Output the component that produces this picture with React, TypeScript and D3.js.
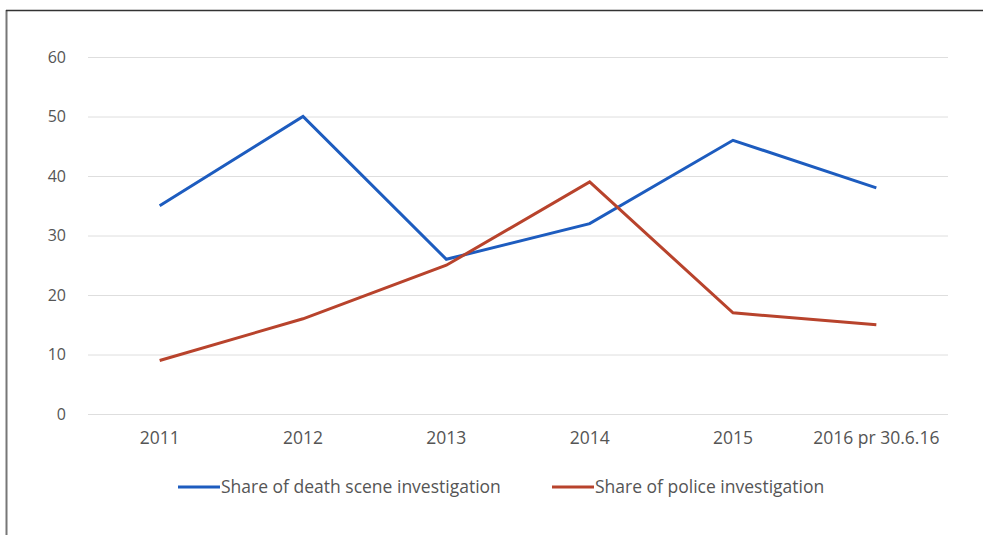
import React, { useEffect, useRef } from "react";
import * as d3 from "d3";

const categories = ["2011", "2012", "2013", "2014", "2015", "2016 pr 30.6.16"];
const deathScene = [35, 50, 26, 32, 46, 38];
const police = [9, 16, 25, 39, 17, 15];
const yTicks = [0, 10, 20, 30, 40, 50, 60];
const seriesNames = ["Share of death scene investigation", "Share of police investigation"];

const W = 983;
const H = 535;
const FONT = "'Open Sans', sans-serif";

const App: React.FC = () => {
	const svgRef = useRef<SVGSVGElement | null>(null);

	useEffect(() => {
		const svg = d3.select(svgRef.current);
		svg.selectAll("*").remove();

		const left = 88;
		const right = 948;
		const top = 57;
		const bottom = 414;

		const x = d3.scaleBand().domain(categories).range([left, right]);
		const y = d3.scaleLinear().domain([0, 60]).range([bottom, top]);

		svg.append("rect").attr("width", W).attr("height", H).attr("fill", "#fff");

		// frame
		svg.append("line")
			.attr("x1", 6.5).attr("x2", 6.5).attr("y1", 10).attr("y2", H)
			.attr("stroke", "#777").attr("stroke-width", 2);
		svg.append("line")
			.attr("x1", 6).attr("x2", W).attr("y1", 10.5).attr("y2", 10.5)
			.attr("stroke", "#333").attr("stroke-width", 1.5);

		// gridlines
		svg.append("g")
			.selectAll("line")
			.data(yTicks)
			.enter()
			.append("line")
			.attr("x1", left)
			.attr("x2", right)
			.attr("y1", (d) => y(d) + 0.5)
			.attr("y2", (d) => y(d) + 0.5)
			.attr("stroke", "#dedede")
			.attr("stroke-width", 1);

		svg.append("g")
			.selectAll("text")
			.data(yTicks)
			.enter()
			.append("text")
			.attr("x", 66)
			.attr("y", (d) => y(d))
			.attr("dy", "0.35em")
			.attr("text-anchor", "end")
			.style("font-family", FONT)
			.style("font-size", "16px")
			.style("fill", "#555")
			.text((d) => d);

		svg.append("g")
			.selectAll("text")
			.data(categories)
			.enter()
			.append("text")
			.attr("x", (d) => (x(d) as number) + x.bandwidth() / 2)
			.attr("y", 438)
			.attr("dy", "0.35em")
			.attr("text-anchor", "middle")
			.style("font-family", FONT)
			.style("font-size", "17.5px")
			.style("fill", "#555")
			.text((d) => d);

		const line = d3
			.line<number>()
			.x((_, i) => (x(categories[i]) as number) + x.bandwidth() / 2)
			.y((d) => y(d));

		const colors = ["#1d5cbf", "#b8432c"];
		[deathScene, police].forEach((s, i) => {
			svg.append("path")
				.attr("d", line(s) as string)
				.attr("fill", "none")
				.attr("stroke", colors[i])
				.attr("stroke-width", 3)
				.attr("stroke-linejoin", "miter");
		});

		// legend
		const legendX = [178, 552];
		seriesNames.forEach((name, i) => {
			const g = svg.append("g").attr("transform", `translate(${legendX[i]},487)`);
			g.append("line")
				.attr("x1", 0).attr("x2", 42).attr("y1", 0).attr("y2", 0)
				.attr("stroke", colors[i]).attr("stroke-width", 3);
			g.append("text")
				.attr("x", 43)
				.attr("y", 0)
				.attr("dy", "0.35em")
				.style("font-family", FONT)
				.style("font-size", "17.5px")
				.style("fill", "#555")
				.text(name);
		});
	}, []);

	return (
		<div style={{ position: "absolute", left: 0, top: 0 }}>
			<svg ref={svgRef} width={W} height={H} style={{ display: "block" }}></svg>
		</div>
	);
};

export default App;
